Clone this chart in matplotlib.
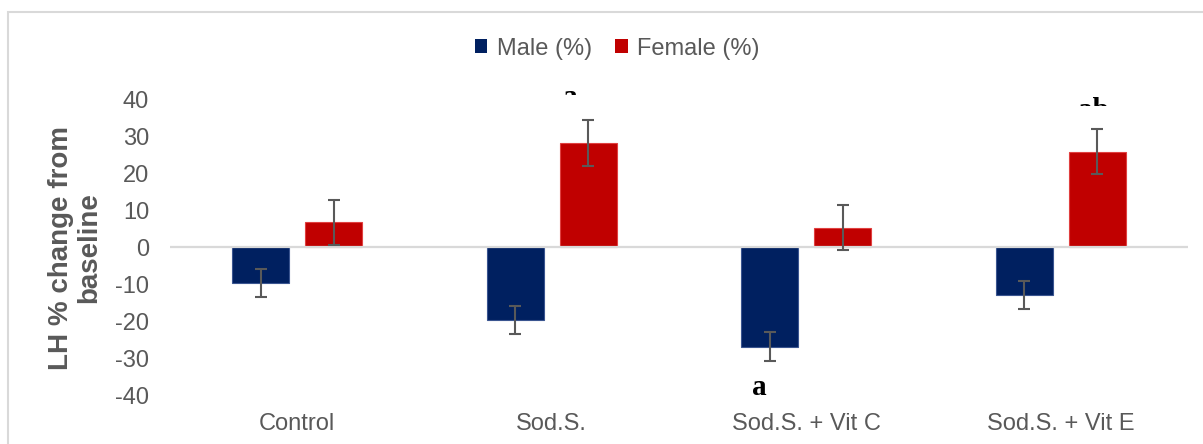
import numpy as np
import matplotlib
matplotlib.use("Agg")
import matplotlib.pyplot as plt
from matplotlib.patches import Patch, Rectangle
from matplotlib.transforms import Bbox, TransformedBbox

plt.rcParams['font.family'] = ['Liberation Sans', 'DejaVu Sans']
plt.rcParams['axes.unicode_minus'] = False

groups = ['Control', 'Sod.S.', 'Sod.S. + Vit C', 'Sod.S. + Vit E']
male = [-9.6, -19.6, -26.9, -12.9]
male_err = [3.8, 3.85, 3.85, 3.85]
female = [6.9, 28.4, 5.3, 26.0]
female_err = [6.1, 6.2, 6.1, 6.1]

W, H = 1203, 444
fig = plt.figure(figsize=(W / 100, H / 100), dpi=100)
ax = fig.add_axes([170 / W, 49 / H, 1018 / W, 295 / H])

x = np.arange(len(groups))
bw = 0.224
off = 0.143
grey = '#595959'

ax.bar(x - off, male, bw, color='#002060', edgecolor='#3a5590', linewidth=0.8, zorder=2)
ax.bar(x + off, female, bw, color='#c00000', edgecolor='#e04040', linewidth=0.8, zorder=2)
ax.errorbar(x - off, male, yerr=male_err, fmt='none', ecolor=grey,
            elinewidth=1.5, capsize=4.3, capthick=1.5, zorder=4)
ax.errorbar(x + off, female, yerr=female_err, fmt='none', ecolor=grey,
            elinewidth=1.5, capsize=4.3, capthick=1.5, zorder=4)
ax.axhline(0, color='#d9d9d9', lw=1.6, zorder=3)

ax.set_xlim(-0.5, 3.5)
ax.set_ylim(-40, 40)
ax.set_yticks(range(-40, 41, 10))
ax.set_xticks(x)
ax.set_xticklabels(groups)
ax.tick_params(axis='y', length=0, pad=15, labelsize=17, labelcolor=grey)
ax.tick_params(axis='x', length=0, pad=13, labelsize=17, labelcolor=grey)
for s in ax.spines.values():
    s.set_visible(False)

# significance letters
serif = dict(family=['Liberation Serif', 'DejaVu Serif'], fontweight='bold',
             fontsize=21, ha='center', va='baseline', color='black')
ax.text(2 - off - 0.043, -39.9, 'a', **serif)
# the top letters are cut off at the upper edge of the chart
for xs, ys, s, cut in [(1 + off - 0.07, 38.6, 'a', 95), (3 + off - 0.014, 35.0, 'ab', 106)]:
    t = fig.text(xs, ys, s, transform=ax.transData, **serif)
    t.set_clip_box(TransformedBbox(Bbox.from_extents(0, 1 - cut / H, 1, 1), fig.transFigure))
    t.set_clip_on(True)

fig.text(75 / W, 1 - 247.5 / H, 'LH % change from\nbaseline', rotation=90,
         ha='center', va='center', fontsize=20, fontweight='bold', color=grey,
         linespacing=1.15)

handles = [Patch(facecolor='#002060', label='Male (%)'),
           Patch(facecolor='#c00000', label='Female (%)')]
leg = fig.legend(handles=handles, loc='center', bbox_to_anchor=(0.513, 1 - 48.8 / H),
                 ncol=2, frameon=False, fontsize=17, handlelength=0.53, handleheight=0.53,
                 handletextpad=0.4, columnspacing=1.0)
for txt in leg.get_texts():
    txt.set_color(grey)

# chart area border
fig.patches.append(Rectangle((8 / W, -0.1), 1.0, 1.1 - 12 / H, transform=fig.transFigure,
                             fill=False, edgecolor='#d9d9d9', lw=1.5))

fig.savefig('out.png', dpi=100)
